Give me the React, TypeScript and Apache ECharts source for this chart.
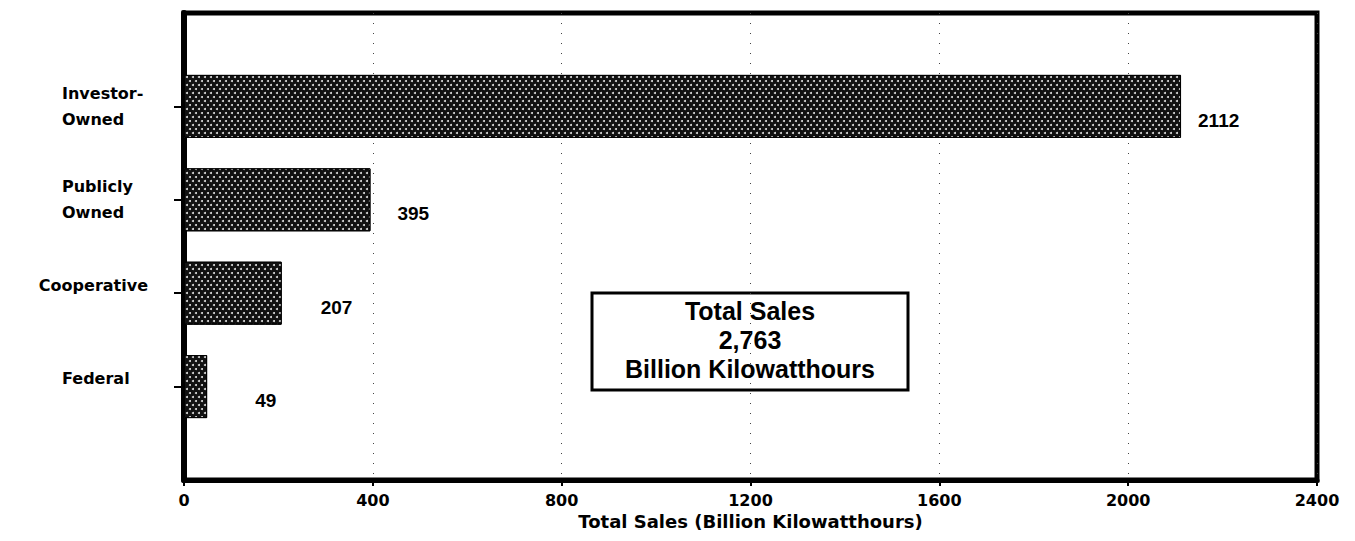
import React, { useEffect, useRef } from "react";
import * as echarts from "echarts";

const categories = ["", "Investor-\nOwned", "Publicly\nOwned", "Cooperative", "Federal", ""];
const salesValues: (number | string)[] = ["-", 2112, 395, 207, 49, "-"];
const labelDistances = [0, 17, 27, 39, 48, 0];
const xTicks = { min: 0, max: 2400, interval: 400 };
const axisTitle = "Total Sales (Billion Kilowatthours)";
const boxLines = ["Total Sales", "2,763", "Billion Kilowatthours"];

const FONT = '"Liberation Sans", Arial, sans-serif';
const WIDE = '"DejaVu Sans", Verdana, sans-serif';

export default function App() {
  const ref = useRef<HTMLDivElement>(null);
  useEffect(() => {
    document.body.style.margin = "0";
    const chart = echarts.init(ref.current!, null, { renderer: "svg" });
    const data = salesValues.map((v, i) =>
      v === "-"
        ? "-"
        : {
            value: v,
            label: {
              show: true,
              position: "right",
              distance: labelDistances[i],
              offset: [0, 14],
              color: "#000",
              fontFamily: FONT,
              fontWeight: "bold",
              fontSize: 19,
            },
          }
    );
    const lineYs = [311, 340, 369];
    chart.setOption({
      animation: false,
      backgroundColor: "#fff",
      grid: {
        left: 184,
        right: 38,
        top: 13,
        bottom: 61,
        show: true,
        borderColor: "#000",
        borderWidth: 5,
        backgroundColor: "transparent",
      },
      xAxis: {
        type: "value",
        min: xTicks.min,
        max: xTicks.max,
        interval: xTicks.interval,
        name: axisTitle,
        nameLocation: "middle",
        nameGap: 28,
        nameTextStyle: { color: "#000", fontFamily: WIDE, fontWeight: "bold", fontSize: 18 },
        axisLine: { show: true, lineStyle: { color: "#000", width: 5 } },
        axisTick: { show: true, length: 6, lineStyle: { color: "#000", width: 2 } },
        axisLabel: {
          color: "#000",
          fontFamily: WIDE,
          fontWeight: "bold",
          fontSize: 16,
          margin: 12,
          formatter: (v: number) => String(v),
        },
        splitLine: { show: true, lineStyle: { color: "#444", width: 1, type: [1, 9] } },
      },
      yAxis: {
        type: "category",
        inverse: true,
        boundaryGap: false,
        data: categories,
        axisLine: { show: true, lineStyle: { color: "#000", width: 6 } },
        axisTick: {
          show: true,
          length: 10,
          interval: (idx: number, val: string) => val !== "",
          lineStyle: { color: "#000", width: 2 },
        },
        splitLine: { show: false },
        axisLabel: {
          margin: 19,
          interval: 0,
          formatter: (val: string) => {
            if (val === "") return "";
            if (val === "Cooperative") return "{c|" + val + "}";
            if (val.indexOf("\n") >= 0) return val.split("\n").map((s) => "{a|" + s + "}").join("\n");
            return "{s|" + val + "}";
          },
          rich: {
            a: { width: 103, align: "left", fontFamily: WIDE, fontWeight: "bold", fontSize: 16, color: "#000", lineHeight: 26 },
            s: { width: 103, align: "left", fontFamily: WIDE, fontWeight: "bold", fontSize: 16, color: "#000", lineHeight: 26, padding: [0, 0, 16, 0] },
            c: { fontFamily: WIDE, fontWeight: "bold", fontSize: 16, color: "#000", lineHeight: 26, padding: [0, 17, 16, 0] },
          },
        },
      },
      series: [
        {
          type: "bar",
          data,
          barWidth: 63,
          itemStyle: {
            color: "#111",
            borderColor: "#000",
            borderWidth: 1,
            decal: {
              symbol: "circle",
              symbolSize: 1,
              color: "#e0e0e0",
              dashArrayX: [[1.6, 3.4], [0, 2.5, 1.6, 0.9]],
              dashArrayY: [1.6, 1.1],
              rotation: 0,
            },
          },
        },
      ],
      graphic: [
        {
          type: "group",
          z: 100,
          children: [
            {
              type: "rect",
              shape: { x: 592, y: 293, width: 316, height: 97 },
              style: { fill: "#fff", stroke: "#000", lineWidth: 3 },
            },
            ...boxLines.map((t, i) => ({
              type: "text",
              style: {
                text: t,
                x: 750,
                y: lineYs[i],
                align: "center",
                verticalAlign: "middle",
                font: 'bold 25px "Liberation Sans", Arial, sans-serif',
                fill: "#000",
              },
            })),
          ],
        },
      ],
    });
    return () => chart.dispose();
  }, []);
  return <div ref={ref} style={{ width: 1355, height: 541 }} />;
}
